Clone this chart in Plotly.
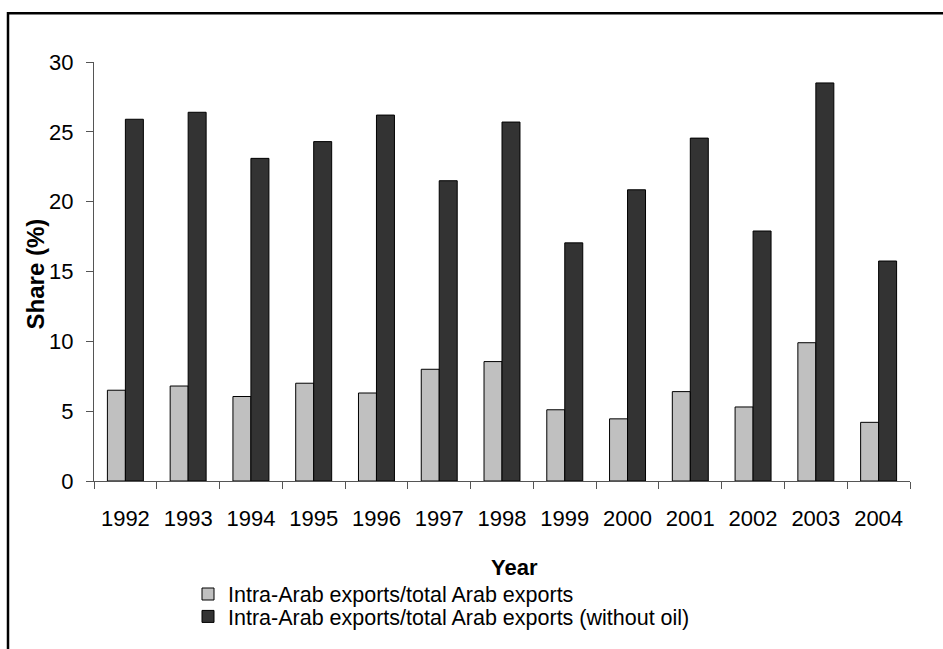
import plotly.graph_objects as go

# Share of intra-Arab exports, 1992-2004 (%)
years = ["1992", "1993", "1994", "1995", "1996", "1997", "1998",
         "1999", "2000", "2001", "2002", "2003", "2004"]
share_total = [6.5, 6.8, 6.05, 7.0, 6.3, 8.0, 8.55, 5.1, 4.45, 6.4, 5.3, 9.9, 4.2]
share_no_oil = [25.9, 26.4, 23.1, 24.3, 26.2, 21.5, 25.7, 17.05, 20.85, 24.55, 17.9, 28.5, 15.75]

name_total = "Intra-Arab exports/total Arab exports"
name_no_oil = "Intra-Arab exports/total Arab exports (without oil)"

FONT = "Arial, 'Liberation Sans', sans-serif"

W, H = 943, 649
L, R, T, B = 94, 33, 62, 157
PW, PH = W - L - R, H - T - B


def px_x(px):
    return (px - L) / PW


def px_y(py):
    return (H - B - py) / PH


fig = go.Figure()
fig.add_trace(go.Bar(
    x=years, y=share_total, name=name_total,
    marker=dict(color="#c0c0c0", line=dict(color="#000000", width=1)),
    legend="legend",
))
fig.add_trace(go.Bar(
    x=years, y=share_no_oil, name=name_no_oil,
    marker=dict(color="#333333", line=dict(color="#000000", width=1)),
    legend="legend2",
))

legend_common = dict(
    font=dict(family=FONT, size=21.5, color="#000000"),
    bgcolor="rgba(0,0,0,0)", borderwidth=0,
    xanchor="left", yanchor="middle", itemwidth=30,
    itemclick=False, itemdoubleclick=False,
)

fig.update_layout(
    width=W, height=H,
    margin=dict(l=L, r=R, t=T, b=B, pad=0),
    paper_bgcolor="#ffffff", plot_bgcolor="#ffffff",
    barmode="group", bargap=0.427, bargroupgap=0,
    showlegend=True,
    legend=dict(x=px_x(188), y=px_y(608), **legend_common),
    legend2=dict(x=px_x(188), y=px_y(631), **legend_common),
    font=dict(family=FONT, color="#000000"),
    xaxis=dict(
        type="category", showgrid=False, zeroline=False,
        showline=True, linecolor="#555555", linewidth=1,
        ticks="outside", ticklen=7, tickcolor="#555555", tickwidth=1,
        tickson="boundaries",
        tickfont=dict(family=FONT, size=22, color="#000000"),
        ticklabelstandoff=18,
    ),
    yaxis=dict(
        range=[0, 30], dtick=5, showgrid=False, zeroline=False,
        showline=True, linecolor="#555555", linewidth=1,
        ticks="outside", ticklen=7, tickcolor="#555555", tickwidth=1,
        tickfont=dict(family=FONT, size=22, color="#000000"),
        ticklabelstandoff=8,
    ),
    annotations=[
        dict(text="<b>Year</b>", xref="paper", yref="paper",
             x=px_x(514), y=px_y(581), xanchor="center", yanchor="middle",
             showarrow=False, font=dict(family=FONT, size=22, color="#000000")),
        dict(text="<b>Share (%)</b>", xref="paper", yref="paper",
             x=px_x(35), y=px_y(279), xanchor="center", yanchor="middle",
             textangle=-90, showarrow=False,
             font=dict(family=FONT, size=24, color="#000000")),
    ],
    shapes=[
        # outer frame
        dict(type="rect", xref="paper", yref="paper",
             x0=px_x(8), y0=px_y(720), x1=px_x(1000), y1=px_y(12),
             line=dict(color="#000000", width=2.5), fillcolor="rgba(0,0,0,0)",
             layer="above"),
    ],
)

fig.write_html("out.html")
